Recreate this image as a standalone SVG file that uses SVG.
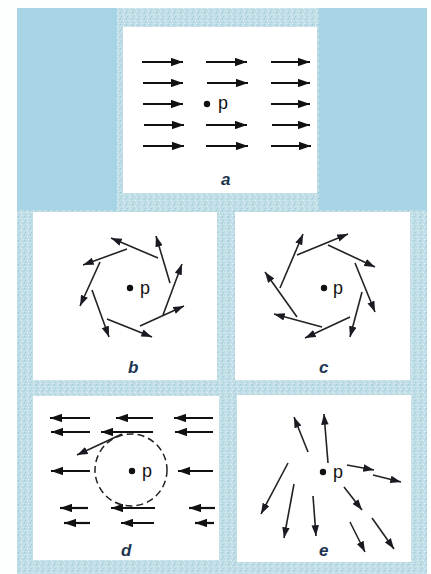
<svg xmlns="http://www.w3.org/2000/svg" width="431" height="574" viewBox="0 0 431 574">
<defs>
<pattern id="speck" width="6" height="6" patternUnits="userSpaceOnUse">
<rect width="6" height="6" fill="#c2dfe8"/>
<rect x="0" y="0" width="1" height="1" fill="#8fc3d4"/>
<rect x="3" y="2" width="1" height="1" fill="#eaf5f8"/>
<rect x="1" y="4" width="1" height="1" fill="#a0ccda"/>
<rect x="4" y="5" width="1" height="1" fill="#e2f1f5"/>
<rect x="5" y="1" width="1" height="1" fill="#a8d2de"/>
</pattern>
<marker id="ah" viewBox="0 0 10 7" refX="10" refY="3.5" markerWidth="12" markerHeight="8.5" markerUnits="userSpaceOnUse" orient="auto">
<path d="M0,0 L10,3.5 L0,7 Z" fill="#111"/>
</marker>
<marker id="ahs" viewBox="0 0 10 7" refX="10" refY="3.5" markerWidth="11" markerHeight="7.5" markerUnits="userSpaceOnUse" orient="auto">
<path d="M0,0 L10,3.5 L0,7 Z" fill="#1a1a22"/>
</marker>
</defs>
<style>
.pan{fill:#ffffff}
.a{stroke:#111;stroke-width:2.2;marker-end:url(#ah);fill:none}
.v{stroke:#222;stroke-width:1.6;marker-end:url(#ahs);fill:none}
.p{font-family:"Liberation Sans",Arial,sans-serif;font-size:18px;fill:#111}
.lbl{font-family:"Liberation Sans",Arial,sans-serif;font-size:17px;font-style:italic;font-weight:bold;fill:#1c3550}
</style>
<rect width="431" height="574" fill="#fdfefe"/>
<rect x="17" y="8" width="410" height="566" fill="url(#speck)"/>
<rect x="17" y="8" width="100" height="202" fill="#a8d5e5"/>
<rect x="319" y="8" width="108" height="202" fill="#a8d5e5"/>

<g id="panel-a">
<rect class="pan" x="123" y="27" width="194" height="166"/>
<line class="a" x1="142" y1="62" x2="183" y2="62"/>
<line class="a" x1="206" y1="62" x2="247" y2="62"/>
<line class="a" x1="271" y1="62" x2="310" y2="62"/>
<line class="a" x1="143" y1="83" x2="183" y2="83"/>
<line class="a" x1="207" y1="83" x2="248" y2="83"/>
<line class="a" x1="271" y1="83" x2="310" y2="83"/>
<line class="a" x1="143" y1="104" x2="183" y2="104"/>
<line class="a" x1="271" y1="104" x2="310" y2="104"/>
<line class="a" x1="144" y1="125" x2="184" y2="125"/>
<line class="a" x1="206" y1="125" x2="247" y2="125"/>
<line class="a" x1="272" y1="125" x2="310" y2="125"/>
<line class="a" x1="143" y1="146" x2="184" y2="146"/>
<line class="a" x1="206" y1="146" x2="248" y2="146"/>
<line class="a" x1="271" y1="146" x2="311" y2="146"/>
<circle cx="207" cy="104" r="3.2" fill="#111"/>
<text class="p" x="218" y="109">p</text>
<text class="lbl" x="221" y="185">a</text>
</g>

<g id="panel-b">
<rect class="pan" x="33" y="212" width="184" height="168"/>
<circle cx="130" cy="288" r="3.2" fill="#111"/>
<text class="p" x="140" y="294">p</text>
<line class="v" x1="158" y1="258" x2="111" y2="238"/>
<line class="v" x1="170" y1="283" x2="156" y2="236"/>
<line class="v" x1="163" y1="315" x2="182" y2="264"/>
<line class="v" x1="140" y1="326" x2="184" y2="306"/>
<line class="v" x1="107" y1="319" x2="152" y2="337"/>
<line class="v" x1="92" y1="290" x2="109" y2="337"/>
<line class="v" x1="100" y1="262" x2="80" y2="306"/>
<line class="v" x1="127" y1="249" x2="83" y2="265"/>
<text class="lbl" x="128" y="373">b</text>
</g>

<g id="panel-c">
<rect class="pan" x="235" y="212" width="175" height="168"/>
<circle cx="324" cy="288" r="3.2" fill="#111"/>
<text class="p" x="333" y="294">p</text>
<line class="v" x1="297" y1="255" x2="348" y2="234"/>
<line class="v" x1="328" y1="245" x2="375" y2="267"/>
<line class="v" x1="355" y1="263" x2="375" y2="312"/>
<line class="v" x1="362" y1="292" x2="350" y2="337"/>
<line class="v" x1="350" y1="317" x2="305" y2="338"/>
<line class="v" x1="322" y1="327" x2="274" y2="314"/>
<line class="v" x1="297" y1="317" x2="265" y2="272"/>
<line class="v" x1="280" y1="288" x2="303" y2="234"/>
<text class="lbl" x="319" y="373">c</text>
</g>

<g id="panel-d">
<rect class="pan" x="33" y="396" width="186" height="164"/>
<circle cx="131" cy="470" r="36" fill="none" stroke="#222" stroke-width="1.5" stroke-dasharray="7 4"/>
<circle cx="132" cy="471" r="3.2" fill="#111"/>
<text class="p" x="142" y="477">p</text>
<line class="a" x1="90" y1="418" x2="50" y2="418"/>
<line class="a" x1="153" y1="418" x2="116" y2="418"/>
<line class="a" x1="213" y1="418" x2="174" y2="418"/>
<line class="a" x1="90" y1="432" x2="51" y2="432"/>
<line class="a" x1="153" y1="432" x2="101" y2="432"/>
<line class="a" x1="213" y1="432" x2="175" y2="432"/>
<line class="v" x1="122" y1="434" x2="77" y2="455"/>
<line class="a" x1="90" y1="471" x2="51" y2="471"/>
<line class="a" x1="213" y1="471" x2="178" y2="471"/>
<line class="a" x1="88" y1="508" x2="60" y2="508"/>
<line class="a" x1="155" y1="508" x2="111" y2="508"/>
<line class="a" x1="215" y1="508" x2="189" y2="508"/>
<line class="a" x1="90" y1="523" x2="64" y2="523"/>
<line class="a" x1="154" y1="523" x2="121" y2="523"/>
<line class="a" x1="214" y1="523" x2="195" y2="523"/>
<text class="lbl" x="121" y="556">d</text>
</g>

<g id="panel-e">
<rect class="pan" x="237" y="395" width="174" height="167"/>
<circle cx="323" cy="472" r="3.2" fill="#111"/>
<text class="p" x="333" y="478">p</text>
<line class="v" x1="308" y1="452" x2="294" y2="417"/>
<line class="v" x1="328" y1="463" x2="324" y2="414"/>
<line class="v" x1="347" y1="465" x2="374" y2="470"/>
<line class="v" x1="373" y1="475" x2="401" y2="482"/>
<line class="v" x1="344" y1="487" x2="362" y2="510"/>
<line class="v" x1="372" y1="518" x2="394" y2="549"/>
<line class="v" x1="350" y1="522" x2="365" y2="552"/>
<line class="v" x1="313" y1="496" x2="316" y2="536"/>
<line class="v" x1="294" y1="484" x2="284" y2="538"/>
<line class="v" x1="288" y1="463" x2="261" y2="514"/>
<text class="lbl" x="319" y="556">e</text>
</g>
</svg>
